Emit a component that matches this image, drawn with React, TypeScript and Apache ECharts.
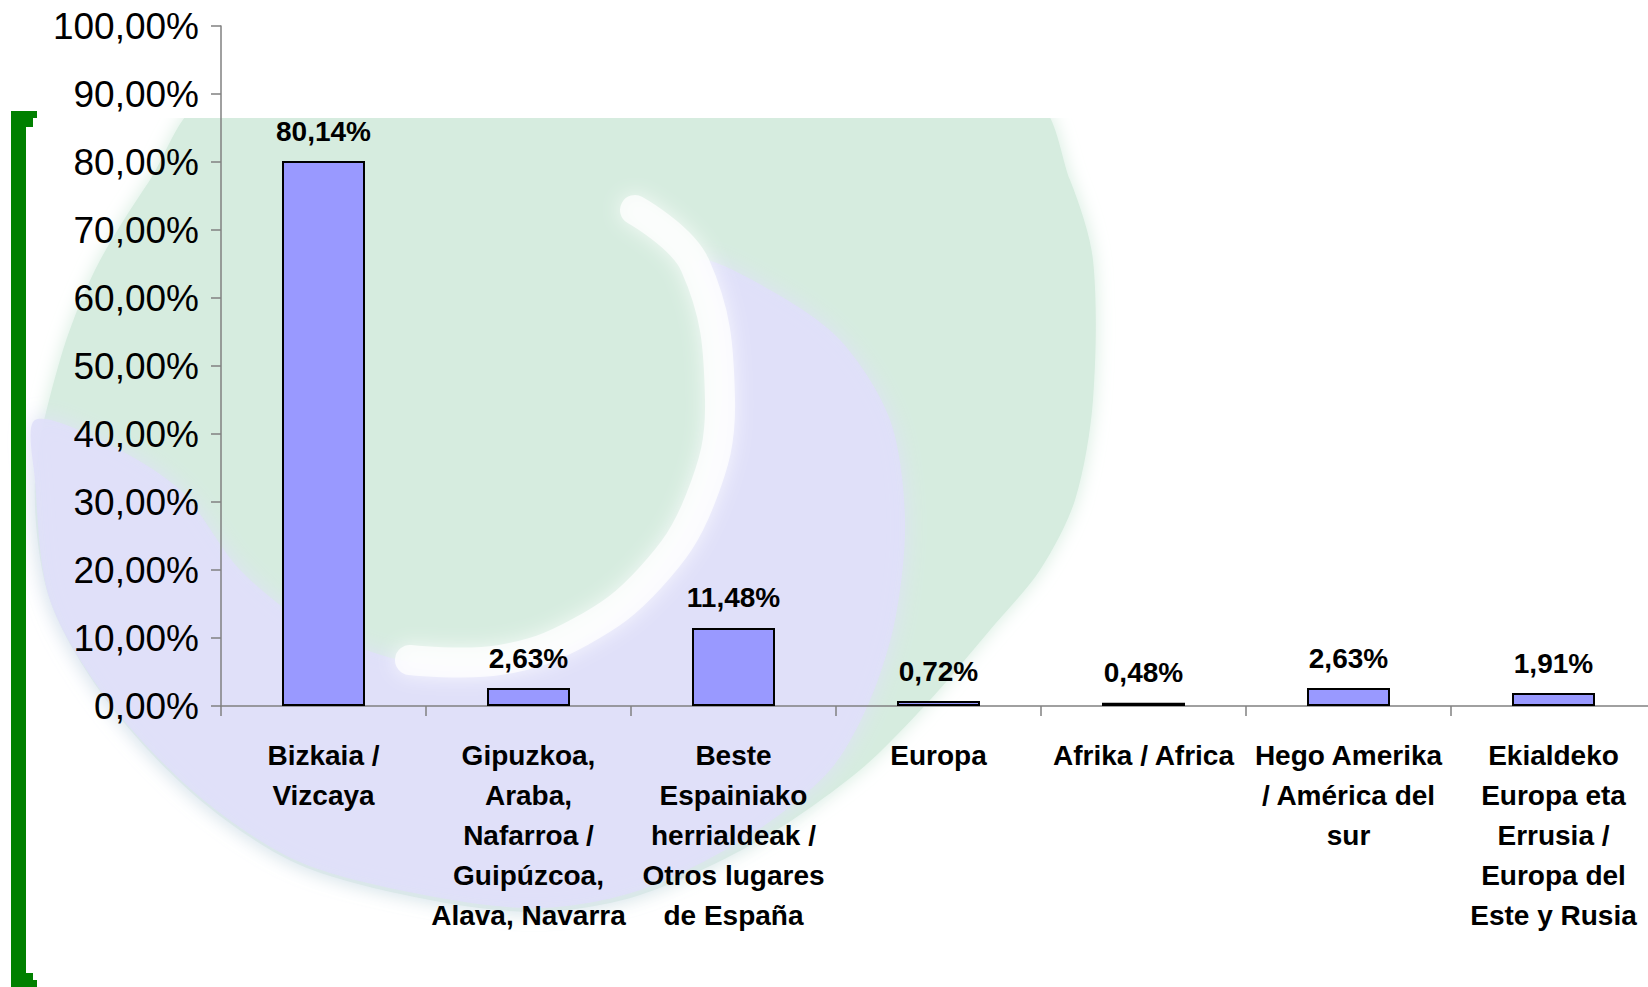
import React, { useEffect, useRef } from "react";
import * as echarts from "echarts";

const categories: string[] = [
  "Bizkaia /\nVizcaya",
  "Gipuzkoa,\nAraba,\nNafarroa /\nGuipúzcoa,\nAlava, Navarra",
  "Beste\nEspainiako\nherrialdeak /\nOtros lugares\nde España",
  "Europa",
  "Afrika / Africa",
  "Hego Amerika\n/ América del\nsur",
  "Ekialdeko\nEuropa eta\nErrusia /\nEuropa del\nEste y Rusia",
];

const percentages: number[] = [80.14, 2.63, 11.48, 0.72, 0.48, 2.63, 1.91];

const yMin = 0;
const yMax = 100;
const yStep = 10;

const fmt = (v: number) => v.toFixed(2).replace(".", ",") + "%";

// decorative watermark outlines (page pixels)
const outerShape: number[][] = [
  [210, 100], [1030, 100], [1070, 180], [1093, 260], [1093, 400], [1075, 500],
  [1040, 570], [990, 630], [930, 700], [860, 770], [760, 840], [640, 895],
  [540, 912], [430, 900], [300, 865], [200, 800], [110, 705], [50, 600],
  [35, 480], [60, 360], [95, 270], [150, 180],
];

const lavenderShape: number[][] = [
  [35, 420], [100, 440], [180, 490], [240, 570], [310, 625], [400, 660],
  [500, 665], [580, 640], [650, 580], [700, 500], [722, 400], [715, 310],
  [700, 260], [770, 290], [840, 340], [890, 420], [905, 520], [895, 620],
  [870, 700], [830, 770], [750, 835], [640, 890], [540, 908], [430, 896],
  [300, 862], [200, 797], [110, 703], [50, 600], [35, 480],
];

const swoosh: number[][] = [
  [635, 210], [695, 265], [720, 400], [700, 500], [650, 578], [580, 632],
  [500, 660], [410, 660],
];

export default function App() {
  const ref = useRef<HTMLDivElement>(null);

  useEffect(() => {
    document.body.style.margin = "0";
    document.body.style.overflow = "hidden";
    if (!ref.current) return;
    const chart = echarts.init(ref.current, null, { renderer: "svg" });

    const green = "#d6ecdf";
    const lav = "#e0e0fa";
    const bracket = "#008000";

    const background: any[] = [
      {
        type: "polygon",
        z: -10,
        silent: true,
        shape: { points: outerShape, smooth: 0.3 },
        style: { fill: green, shadowBlur: 18, shadowColor: green },
      },
      {
        type: "polygon",
        z: -9,
        silent: true,
        shape: { points: lavenderShape, smooth: 0.3 },
        style: { fill: lav, opacity: 0.9, shadowBlur: 22, shadowColor: lav },
      },
      {
        type: "polyline",
        z: -8,
        silent: true,
        shape: { points: swoosh, smooth: 0.4 },
        style: {
          stroke: "#ffffff",
          lineWidth: 30,
          opacity: 0.75,
          fill: null,
          lineCap: "round",
          shadowBlur: 20,
          shadowColor: "#ffffff",
        },
      },
      // flat top edge of the watermark
      {
        type: "rect",
        z: -7,
        silent: true,
        shape: { x: 0, y: 0, width: 1660, height: 118 },
        style: { fill: "#ffffff" },
      },
      // green bracket
      { type: "rect", z: 10, silent: true, shape: { x: 11, y: 111, width: 15, height: 876 }, style: { fill: bracket } },
      { type: "rect", z: 10, silent: true, shape: { x: 11, y: 111, width: 26, height: 7 }, style: { fill: bracket } },
      { type: "rect", z: 10, silent: true, shape: { x: 11, y: 118, width: 22, height: 9 }, style: { fill: bracket } },
      { type: "rect", z: 10, silent: true, shape: { x: 11, y: 973, width: 22, height: 7 }, style: { fill: bracket } },
      { type: "rect", z: 10, silent: true, shape: { x: 11, y: 980, width: 26, height: 7 }, style: { fill: bracket } },
    ];

    const font = "'Liberation Sans', Arial, sans-serif";

    chart.setOption({
      animation: false,
      backgroundColor: "#ffffff",
      graphic: { elements: background },
      grid: { left: 221, top: 26, right: 4, bottom: 281, containLabel: false },
      xAxis: {
        type: "category",
        data: categories,
        axisLine: { show: true, lineStyle: { color: "#808080", width: 1.5 } },
        axisTick: { show: true, length: 10, alignWithLabel: false, lineStyle: { color: "#808080", width: 1.5 } },
        axisLabel: {
          interval: 0,
          margin: 29,
          color: "#000000",
          fontFamily: font,
          fontWeight: "bold",
          fontSize: 28,
          lineHeight: 40,
          align: "center",
        },
        splitLine: { show: false },
      },
      yAxis: {
        type: "value",
        min: yMin,
        max: yMax,
        interval: yStep,
        axisLine: { show: true, lineStyle: { color: "#808080", width: 1.5 } },
        axisTick: { show: true, length: 10, inside: false, lineStyle: { color: "#808080", width: 1.5 } },
        axisLabel: {
          margin: 22,
          color: "#000000",
          fontFamily: font,
          fontSize: 37,
          formatter: (v: number) => fmt(v),
        },
        splitLine: { show: false },
      },
      series: [
        {
          type: "bar",
          data: percentages,
          barWidth: 83,
          itemStyle: { color: "#9999ff", borderColor: "#000000", borderWidth: 2 },
          label: {
            show: true,
            position: "top",
            distance: 16,
            color: "#000000",
            fontFamily: font,
            fontWeight: "bold",
            fontSize: 28,
            formatter: (p: any) => fmt(p.value),
          },
        },
      ],
    });

    return () => {
      chart.dispose();
    };
  }, []);

  return <div ref={ref} style={{ width: 1660, height: 987 }} />;
}
